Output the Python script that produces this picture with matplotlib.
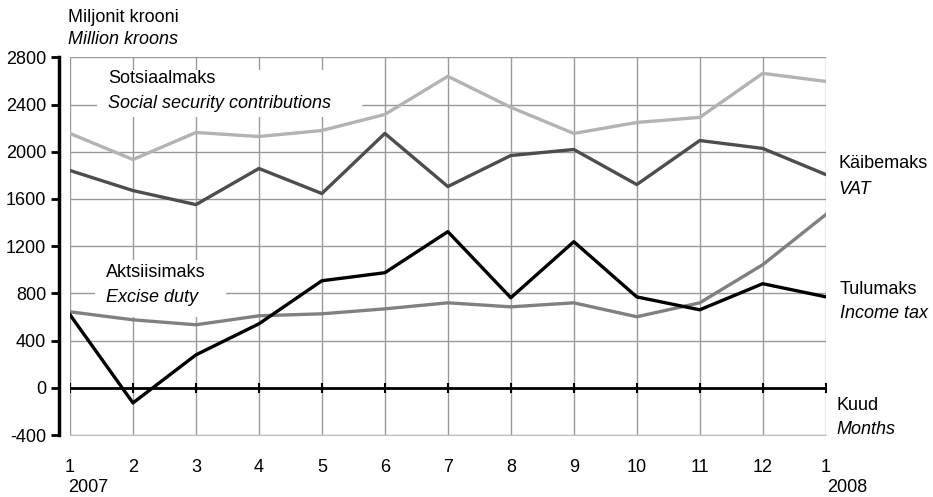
import numpy as np
import matplotlib.pyplot as plt

plt.rcParams['font.family'] = ['Liberation Sans', 'DejaVu Sans']
plt.rcParams['axes.unicode_minus'] = False

# Months Jan 2007 .. Jan 2008
months = np.arange(1, 14)
month_labels = ['1', '2', '3', '4', '5', '6', '7', '8', '9', '10', '11', '12', '1']

# Million kroons
sotsiaalmaks = [2155, 1934, 2163, 2129, 2180, 2316, 2639, 2376, 2155, 2248, 2291, 2664, 2596]
kaibemaks = [1841, 1671, 1552, 1858, 1646, 2155, 1705, 1968, 2019, 1722, 2095, 2028, 1807]
aktsiisimaks = [644, 576, 534, 610, 627, 669, 720, 686, 720, 602, 720, 1043, 1467]
tulumaks = [619, -128, 279, 542, 907, 975, 1323, 763, 1238, 770, 661, 882, 771]

fig = plt.figure(figsize=(9.33, 4.97), dpi=100)
ax = fig.add_axes([0.075, 0.1247, 0.81, 0.76])

ax.set_xlim(1, 13)
ax.set_ylim(-400, 2800)
ax.set_xticks(months)
ax.set_xticklabels(month_labels)
ax.set_yticks(np.arange(-400, 2801, 400))

ax.grid(True, color='#999999', linewidth=1)
ax.set_axisbelow(True)

for s in ['top', 'right']:
    ax.spines[s].set_visible(False)
ax.spines['bottom'].set_color('#c0c0c0')
ax.spines['left'].set_position(('outward', 8))
ax.spines['left'].set_linewidth(2.5)
fs = 13
ax.tick_params(axis='y', length=6, width=2, labelsize=fs, pad=3)
ax.tick_params(axis='x', length=0, labelsize=fs, pad=17)

# zero line with small tick marks
ax.plot(months, np.zeros(len(months)), color='black', lw=2, marker='|', ms=7, mew=1.5, zorder=3)

ax.plot(months, sotsiaalmaks, color='#b3b3b3', lw=2.4, zorder=4)
ax.plot(months, kaibemaks, color='#4d4d4d', lw=2.4, zorder=4)
ax.plot(months, aktsiisimaks, color='#808080', lw=2.4, zorder=4)
ax.plot(months, tulumaks, color='black', lw=2.4, zorder=5)

# white boxes behind the in-plot labels
ax.add_patch(plt.Rectangle((1.43, 2293), 4.2, 400, facecolor='white', edgecolor='none', zorder=1.5))
ax.add_patch(plt.Rectangle((1.40, 600), 2.08, 482, facecolor='white', edgecolor='none', zorder=1.5))

ax.text(1.6, 2624, 'Sotsiaalmaks', fontsize=fs, va='center', zorder=7)
ax.text(1.6, 2412, 'Social security contributions', fontsize=fs, style='italic', va='center', zorder=7)
ax.text(1.57, 975, 'Aktsiisimaks', fontsize=fs, va='center', zorder=7)
ax.text(1.57, 765, 'Excise duty', fontsize=fs, style='italic', va='center', zorder=7)

fig.text(68, 497 - 18, 'Miljonit krooni', fontsize=fs, va='center', transform=None)
fig.text(68, 497 - 40, 'Million kroons', fontsize=fs, style='italic', va='center', transform=None)
fig.text(838, 497 - 164, 'Käibemaks', fontsize=fs, va='center', transform=None)
fig.text(838, 497 - 189, 'VAT', fontsize=fs, style='italic', va='center', transform=None)
fig.text(840, 497 - 289, 'Tulumaks', fontsize=fs, va='center', transform=None)
fig.text(840, 497 - 313, 'Income tax', fontsize=fs, style='italic', va='center', transform=None)
fig.text(836, 497 - 405, 'Kuud', fontsize=fs, va='center', transform=None)
fig.text(836, 497 - 430, 'Months', fontsize=fs, style='italic', va='center', transform=None)
fig.text(68, 497 - 488, '2007', fontsize=fs, va='center', transform=None)
fig.text(827, 497 - 488, '2008', fontsize=fs, va='center', transform=None)

fig.savefig('out.png', dpi=100)
